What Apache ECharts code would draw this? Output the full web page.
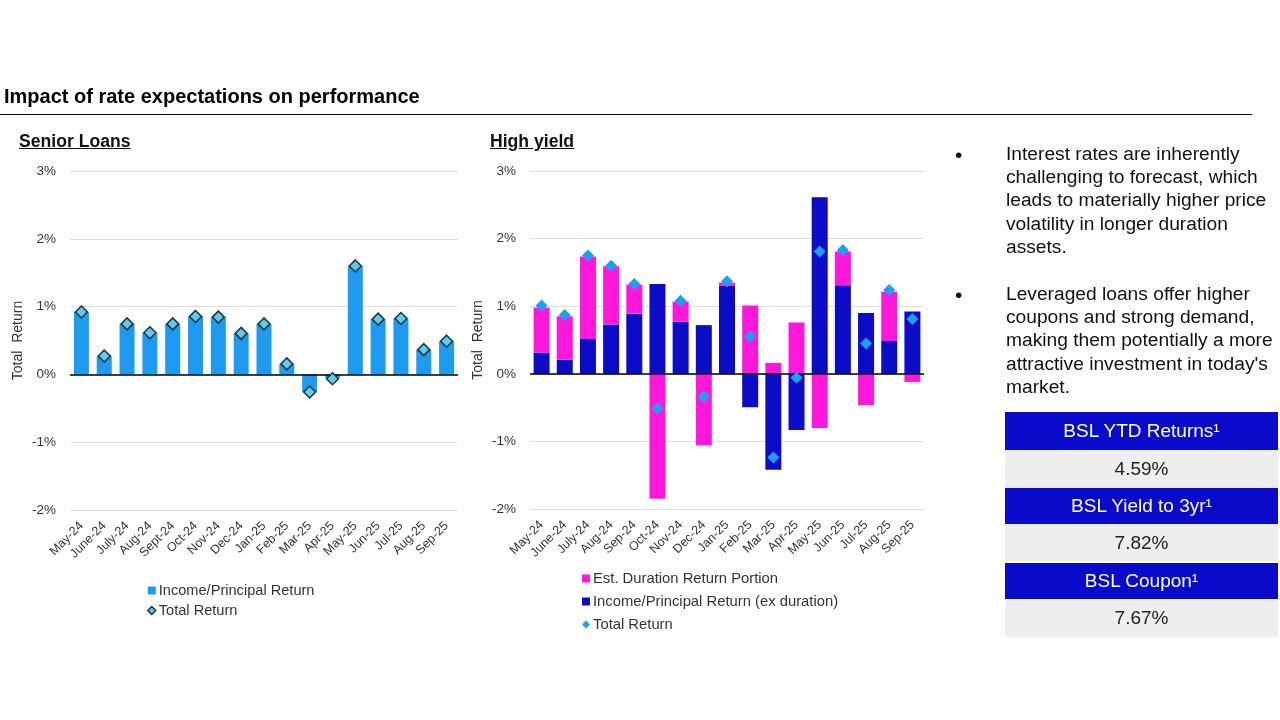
<!DOCTYPE html>
<html>
<head>
<meta charset="utf-8">
<script src="https://cdn.jsdelivr.net/npm/echarts@6/dist/echarts.min.js"></script>
<style>
  html, body { margin:0; padding:0; background:#fff; }
  body { width:1280px; height:720px; position:relative; overflow:hidden; font-family:"Liberation Sans", Arial, sans-serif; color:#111; }
  #chart { position:absolute; left:0; top:0; width:1280px; height:720px; }
  .abs { position:absolute; white-space:nowrap; }
  .title { left:4px; top:85px; font-size:20px; font-weight:bold; color:#000; }
  .rule { left:0; top:114px; width:1252px; height:0; border-top:1.5px solid #111; }
  .sub { top:131px; font-size:17.6px; font-weight:bold; text-decoration:underline; color:#111; }
  .bul { left:1006px; font-size:19.2px; line-height:23.2px; color:#111; }
  .dot { left:955px; font-size:21px; color:#111; }
  .tbl { left:1005px; top:412px; width:273px; }
  .hd { background:#0a0acb; color:#fff; font-size:19px; text-align:center; }
  .vl { background:#eeeeee; color:#222; font-size:19px; text-align:center; }
</style>
</head>
<body>
<div id="chart"></div>
<div class="abs title">Impact of rate expectations on performance</div>
<div class="abs rule"></div>
<div class="abs sub" style="left:19px;">Senior Loans</div>
<div class="abs sub" style="left:490px;">High yield</div>

<div class="abs dot" style="top:143px;">•</div>
<div class="abs bul" style="top:142px;">Interest rates are inherently<br>challenging to forecast, which<br>leads to materially higher price<br>volatility in longer duration<br>assets.</div>
<div class="abs dot" style="top:283px;">•</div>
<div class="abs bul" style="top:282px;">Leveraged loans offer higher<br>coupons and strong demand,<br>making them potentially a more<br>attractive investment in today's<br>market.</div>

<div class="abs tbl">
  <div class="hd" style="height:38px;line-height:38px;">BSL YTD Returns¹</div>
  <div class="vl" style="height:38px;line-height:38px;">4.59%</div>
  <div class="hd" style="height:36px;line-height:36px;">BSL Yield to 3yr¹</div>
  <div class="vl" style="height:37px;line-height:37px;">7.82%</div>
  <div style="height:2px;background:#fff;"></div>
  <div class="hd" style="height:36px;line-height:36px;">BSL Coupon¹</div>
  <div class="vl" style="height:38px;line-height:38px;">7.67%</div>
</div>

<script>
// ---- data ----
const seniorMonths = ['May-24','June-24','July-24','Aug-24','Sept-24','Oct-24','Nov-24','Dec-24','Jan-25','Feb-25','Mar-25','Apr-25','May-25','Jun-25','Jul-25','Aug-25','Sep-25'];
const hyMonths = ['May-24','June-24','July-24','Aug-24','Sep-24','Oct-24','Nov-24','Dec-24','Jan-25','Feb-25','Mar-25','Apr-25','May-25','Jun-25','Jul-25','Aug-25','Sep-25'];
const seniorIncome = [0.92, 0.27, 0.745, 0.615, 0.745, 0.855, 0.845, 0.605, 0.745, 0.155, -0.26, -0.05, 1.60, 0.815, 0.825, 0.365, 0.49];
const seniorTotal  = [0.92, 0.27, 0.745, 0.615, 0.745, 0.855, 0.845, 0.605, 0.745, 0.155, -0.26, -0.065, 1.60, 0.815, 0.825, 0.365, 0.49];
const hyIncome   = [0.31, 0.21, 0.515, 0.73, 0.89, 1.33, 0.77, 0.72, 1.30, -0.495, -1.42, -0.83, 2.61, 1.31, 0.90, 0.485, 0.92];
const hyDuration = [0.67, 0.64, 1.22, 0.86, 0.43, -1.85, 0.30, -1.06, 0.05, 1.01, 0.16, 0.76, -0.80, 0.50, -0.465, 0.73, -0.12];
const hyTotal    = [1.01, 0.87, 1.75, 1.60, 1.33, -0.515, 1.08, -0.34, 1.37, 0.55, -1.24, -0.06, 1.81, 1.83, 0.45, 1.24, 0.81];
const yTicks = { min: -2, max: 3, interval: 1 };

const C = {
  seniorBar: '#1e9bf0', seniorDiamond: '#62cbe6', seniorDiamondBorder: '#1b3342',
  magenta: '#ff18dc', blue: '#0b0bc8', hyDiamond: '#1e9ff2'
};
const FONT = '"Liberation Sans", Arial, sans-serif';

const chart = echarts.init(document.getElementById('chart'), null, { renderer: 'canvas' });

function yAxis(gridIndex) {
  return {
    type: 'value', gridIndex, min: yTicks.min, max: yTicks.max, interval: yTicks.interval,
    name: 'Total  Return', nameLocation: 'middle', nameGap: 45, nameRotate: 90,
    nameTextStyle: { fontFamily: FONT, fontSize: 14, color: '#333' },
    axisLine: { show: false }, axisTick: { show: false },
    axisLabel: { formatter: '{value}%', fontFamily: FONT, fontSize: 13.5, color: '#333', margin: 14 },
    splitLine: { lineStyle: { color: '#dcdcdc', width: 1 } }
  };
}
function xAxis(gridIndex, data) {
  return {
    type: 'category', gridIndex, data,
    axisLine: { show: false, onZero: false }, axisTick: { show: false },
    axisLabel: { rotate: 45, interval: 0, fontFamily: FONT, fontSize: 12.5, color: '#333', margin: 14 }
  };
}
const zeroLine = {
  silent: true, symbol: 'none', label: { show: false },
  lineStyle: { color: '#000', width: 1.5, type: 'solid' },
  data: [{ yAxis: 0 }]
};

chart.setOption({
  animation: false,
  textStyle: { fontFamily: FONT },
  grid: [
    { left: 70, top: 171, width: 388, height: 339 },
    { left: 530, top: 171, width: 394, height: 338 }
  ],
  xAxis: [xAxis(0, seniorMonths), xAxis(1, hyMonths)],
  yAxis: [yAxis(0), yAxis(1)],
  legend: [
    {
      orient: 'vertical', left: 142, top: 578, itemWidth: 8, itemHeight: 8, itemGap: 5,
      textStyle: { fontFamily: FONT, fontSize: 14.6, color: '#333', padding: [0, 0, 0, -2] },
      data: [
        { name: 'Income/Principal Return', icon: 'rect', itemStyle: { color: C.seniorBar } },
        { name: 'Total Return', icon: 'diamond', itemStyle: { color: C.seniorDiamond, borderColor: C.seniorDiamondBorder, borderWidth: 1.5 } }
      ]
    },
    {
      orient: 'vertical', left: 577, top: 566, itemWidth: 8, itemHeight: 8, itemGap: 8,
      textStyle: { fontFamily: FONT, fontSize: 14.8, color: '#333', padding: [0, 0, 0, -2] },
      data: [
        { name: 'Est. Duration Return Portion', icon: 'rect', itemStyle: { color: C.magenta } },
        { name: 'Income/Principal Return (ex duration)', icon: 'rect', itemStyle: { color: C.blue } },
        { name: 'Total Return ', icon: 'diamond', itemStyle: { color: C.hyDiamond, borderWidth: 0 } }
      ]
    }
  ],
  series: [
    {
      name: 'Income/Principal Return', type: 'bar', xAxisIndex: 0, yAxisIndex: 0,
      data: seniorIncome, barWidth: 15, itemStyle: { color: C.seniorBar },
      markLine: zeroLine
    },
    {
      name: 'Total Return', type: 'scatter', xAxisIndex: 0, yAxisIndex: 0,
      data: seniorTotal, symbol: 'diamond', symbolSize: 12, z: 5,
      itemStyle: { color: C.seniorDiamond, borderColor: C.seniorDiamondBorder, borderWidth: 1.5, opacity: 1 }
    },
    {
      name: 'Income/Principal Return (ex duration)', type: 'bar', stack: 'hy', xAxisIndex: 1, yAxisIndex: 1,
      data: hyIncome, barWidth: 16, itemStyle: { color: C.blue },
      markLine: zeroLine
    },
    {
      name: 'Est. Duration Return Portion', type: 'bar', stack: 'hy', xAxisIndex: 1, yAxisIndex: 1,
      data: hyDuration, barWidth: 16, itemStyle: { color: C.magenta }
    },
    {
      name: 'Total Return ', type: 'scatter', xAxisIndex: 1, yAxisIndex: 1,
      data: hyTotal, symbol: 'diamond', symbolSize: 12, z: 5,
      itemStyle: { color: C.hyDiamond, opacity: 1 }
    }
  ]
});
</script>
</body>
</html>
